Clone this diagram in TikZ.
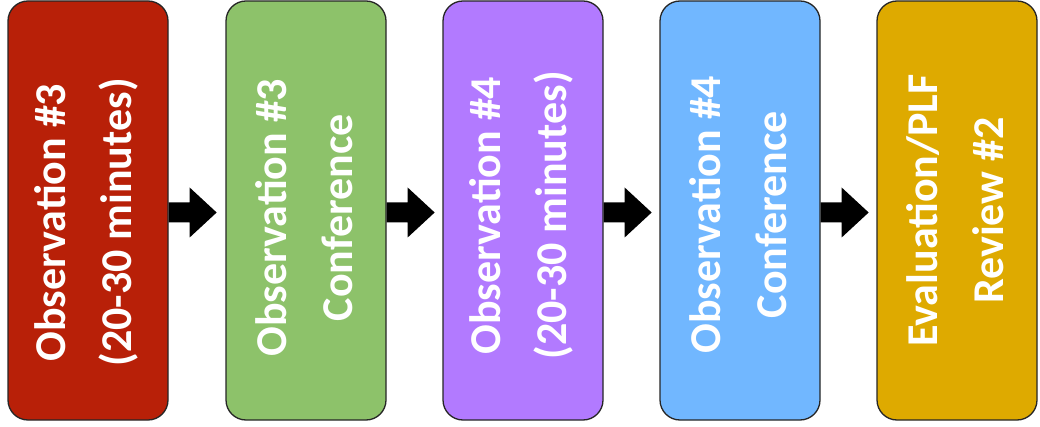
\documentclass[tikz,border=0pt]{standalone}
\usepackage{fontspec}
\setmainfont{Carlito}
\usetikzlibrary{calc}
\definecolor{cred}{HTML}{B82008}
\definecolor{cgreen}{HTML}{8DC26A}
\definecolor{cpurple}{HTML}{B27AFF}
\definecolor{cblue}{HTML}{71B7FF}
\definecolor{cgold}{HTML}{DEAA00}
\begin{document}
\begin{tikzpicture}[x=1pt,y=-1pt,
  stagebox/.style={draw=black!85, line width=1.3pt, rounded corners=20pt,
    minimum width=160pt, minimum height=419pt, inner sep=0pt},
  stagetext/.style={rotate=90, align=center, text=white, inner sep=0pt,
    font=\fontsize{44}{66}\selectfont\bfseries},
  flowarrow/.style={fill=black}]
\useasboundingbox (0,0) rectangle (1040,427);
\node[stagebox, fill=cred]    (b1) at (88,210.5) {};
\node[stagebox, fill=cgreen]  (b2) at (306,210.5) {};
\node[stagebox, fill=cpurple] (b3) at (523,210.5) {};
\node[stagebox, fill=cblue]   (b4) at (740,210.5) {};
\node[stagebox, fill=cgold]   (b5) at (957,210.5) {};
\node[stagetext] (t1) at ($(b1.center)+(-2,12)$) {Observation \#3\\(20-30 minutes)};
\node[stagetext] (t2) at ($(b2.center)+(-2,7)$) {Observation \#3\\Conference};
\node[stagetext] (t3) at ($(b3.center)+(-2,5)$) {Observation \#4\\(20-30 minutes)};
\node[stagetext] (t4) at ($(b4.center)+(-2,4)$) {Observation \#4\\Conference};
\node[stagetext] (t5) at ($(b5.center)+(-2,0)$) {Evaluation/PLF\\Review \#2};
\foreach \a in {1,2,3,4}{
  \fill[flowarrow] ($(b\a.east)+(0,-8)$) -- ++(21,0) -- ++(0,-15) -- ++(27,25)
    -- ++(-27,25) -- ++(0,-15) -- ++(-21,0) -- cycle;
}
\end{tikzpicture}
\end{document}
